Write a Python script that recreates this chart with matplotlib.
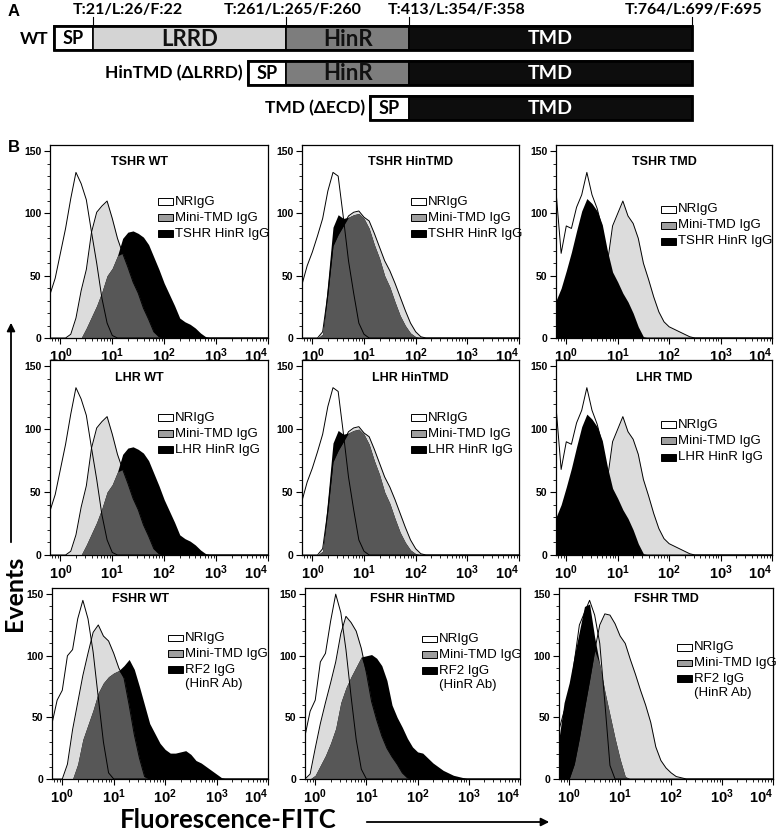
import numpy as np
import matplotlib
matplotlib.use('Agg')
from matplotlib import pyplot as plt
from matplotlib.patches import Rectangle, FancyArrowPatch
from matplotlib.ticker import LogLocator, NullFormatter

plt.rcParams['font.family'] = ['Liberation Sans', 'DejaVu Sans']
plt.rcParams['mathtext.fontset'] = 'custom'
plt.rcParams['mathtext.rm'] = 'Liberation Sans:bold'
plt.rcParams['mathtext.bf'] = 'Liberation Sans:bold'
CAL = ['Lato', 'DejaVu Sans']

W, H = 778, 831

# ---------------- panel A data (TSHR numbering for boxes)
domain_names = ['SP', 'LRRD', 'HinR', 'TMD']
domain_ends = [21, 261, 413, 764]
boundary_labels = ['T:21/L:26/F:22', 'T:261/L:265/F:260',
                   'T:413/L:354/F:358', 'T:764/L:699/F:695']
constructs = ['WT', 'HinTMD (ΔLRRD)', 'TMD (ΔECD)']
construct_first = [1, 2, 3]          # index of first domain after SP
sp_len = 48                          # drawn width of SP box (schematic)

# ---------------- panel B data: events per 0.1-decade bin, listed from a start log10
tshr_wt_nr_from, tshr_wt_nr = -0.2, [35, 48, 68, 88, 112, 133, 124, 111, 85, 60, 32, 12, 2, 0]
tshr_wt_mini_from, tshr_wt_mini = 0.2, [3, 16, 38, 55, 85, 101, 106, 110, 96, 80, 68, 57, 45, 36,
                                        24, 15, 5, 1, 0]
tshr_wt_hinr_from, tshr_wt_hinr = 0.4, [0, 8, 17, 26, 37, 50, 56, 66, 80, 85, 86, 84, 81, 75, 65,
                                        55, 44, 35, 26, 16, 13, 11, 8, 4, 1, 0]

tshr_hin_nr_from, tshr_hin_nr = -0.2, [43, 58, 69, 82, 96, 118, 133, 130, 97, 62, 36, 12, 3, 0]
tshr_hin_mini_from, tshr_hin_mini = 0.1, [0, 5, 35, 74, 83, 90, 98, 101, 102, 97, 94, 84, 73, 62,
                                          54, 44, 33, 22, 12, 5, 1, 0]
tshr_hin_hinr_from, tshr_hin_hinr = 0.1, [0, 3, 45, 89, 99, 96, 97, 99, 100, 96, 88, 75, 64, 50,
                                          41, 29, 18, 10, 4, 1, 0]

tshr_tmd_nr_from, tshr_tmd_nr = -0.2, [118, 68, 90, 88, 105, 115, 133, 115, 104, 88, 62, 42, 25,
                                       12, 4, 0]
tshr_tmd_mini_from, tshr_tmd_mini = 0.7, [0, 60, 90, 100, 110, 98, 92, 80, 60, 47, 33, 21, 13, 9,
                                          7, 5, 3, 1, 0]
tshr_tmd_hinr_from, tshr_tmd_hinr = -0.2, [30, 40, 54, 69, 86, 102, 112, 108, 102, 91, 70, 53, 45,
                                           36, 29, 20, 9, 1, 0]

# LHR row shows the same histograms as the TSHR row
lhr_wt_nr_from, lhr_wt_nr = tshr_wt_nr_from, tshr_wt_nr
lhr_wt_mini_from, lhr_wt_mini = tshr_wt_mini_from, tshr_wt_mini
lhr_wt_hinr_from, lhr_wt_hinr = tshr_wt_hinr_from, tshr_wt_hinr
lhr_hin_nr_from, lhr_hin_nr = tshr_hin_nr_from, tshr_hin_nr
lhr_hin_mini_from, lhr_hin_mini = tshr_hin_mini_from, tshr_hin_mini
lhr_hin_hinr_from, lhr_hin_hinr = tshr_hin_hinr_from, tshr_hin_hinr
lhr_tmd_nr_from, lhr_tmd_nr = tshr_tmd_nr_from, tshr_tmd_nr
lhr_tmd_mini_from, lhr_tmd_mini = tshr_tmd_mini_from, tshr_tmd_mini
lhr_tmd_hinr_from, lhr_tmd_hinr = tshr_tmd_hinr_from, tshr_tmd_hinr

fshr_wt_nr_from, fshr_wt_nr = -0.2, [45, 64, 72, 100, 105, 130, 145, 130, 103, 66, 30, 5, 0]
fshr_wt_mini_from, fshr_wt_mini = 0.0, [0, 12, 40, 62, 84, 102, 119, 125, 116, 112, 102, 90, 82,
                                        60, 36, 17, 2, 0]
fshr_wt_rf2_from, fshr_wt_rf2 = 0.2, [0, 12, 32, 44, 56, 70, 78, 83, 86, 88, 92, 97, 89, 75, 60,
                                      45, 37, 29, 24, 21, 21, 22, 23, 20, 15, 13, 10, 7, 4, 1, 0]

fshr_hin_nr_from, fshr_hin_nr = -0.2, [35, 55, 64, 95, 102, 128, 150, 135, 105, 67, 32, 8, 0]
fshr_hin_mini_from, fshr_hin_mini = -0.2, [0, 4, 25, 45, 62, 78, 95, 118, 132, 127, 120, 106, 86,
                                           63, 48, 35, 25, 18, 12, 5, 1, 0]
fshr_hin_rf2_from, fshr_hin_rf2 = -0.1, [0, 3, 11, 19, 29, 41, 62, 74, 83, 91, 99, 100, 101, 98,
                                         92, 80, 60, 50, 42, 33, 26, 22, 21, 17, 13, 10, 7, 5, 3,
                                         2, 1, 0]

fshr_tmd_nr_from, fshr_tmd_nr = -0.2, [40, 55, 63, 95, 125, 135, 145, 133, 110, 62, 11, 0]
fshr_tmd_mini_from, fshr_tmd_mini = 0.0, [0, 12, 33, 57, 80, 104, 125, 134, 133, 126, 116, 110,
                                          97, 85, 72, 60, 46, 26, 15, 9, 5, 2, 1, 0]
fshr_tmd_rf2_from, fshr_tmd_rf2 = -0.2, [33, 62, 78, 100, 120, 140, 142, 115, 93, 71, 52, 33, 16,
                                         2, 0]

panel_titles = [['TSHR WT', 'TSHR HinTMD', 'TSHR TMD'],
                ['LHR WT', 'LHR HinTMD', 'LHR TMD'],
                ['FSHR WT', 'FSHR HinTMD', 'FSHR TMD']]
ab_labels = ['TSHR HinR IgG', 'LHR HinR IgG', 'RF2 IgG\n(HinR Ab)']
key_labels = ['NRIgG', 'Mini-TMD IgG']
xtick_vals = [1, 10, 100, 1000, 10000]
xtick_labels = [r'$\mathbf{10^{0}}$', r'$\mathbf{10^{1}}$', r'$\mathbf{10^{2}}$',
                r'$\mathbf{10^{3}}$', r'$\mathbf{10^{4}}$']
ytick_vals = [0, 50, 100, 150]

LIGHT, DARK, BLACK = '#dcdcdc', '#575757', '#000000'
KEY_GRAY = '#9e9e9e'

log_bins = np.round(np.arange(-0.2, 4.05, 0.1), 1)
xs = 10 ** log_bins


def trace(start, vals):
    y = np.zeros(len(log_bins))
    i = int(round((start + 0.2) / 0.1))
    y[i:i + len(vals)] = vals
    return y


fig = plt.figure(figsize=(W / 100, H / 100), dpi=100)


def px_axes(l, t, r, b):
    return fig.add_axes([l / W, 1 - b / H, (r - l) / W, (b - t) / H])


# ---------------- panel A
axA = px_axes(0, 0, W, 130)
scale, offset = 0.8073, 75.55  # px per residue, px of residue 0
axA.set_xlim(-offset / scale, (W - offset) / scale)
axA.set_ylim(130, 0)
axA.axis('off')
dom_fc = ['white', '#d4d4d4', '#7d7d7d', '#0d0d0d']
dom_tc = ['black', '#111111', '#111111', 'white']
dom_fs = [13, 16, 16, 14]
row_y = [38, 72.5, 107.5]
bar_h = 24
for r, (name, first) in enumerate(zip(constructs, construct_first)):
    yc = row_y[r]
    start_sp = domain_ends[first - 1] - sp_len
    segs = [(start_sp, domain_ends[first - 1], 0)]
    for d in range(first, len(domain_names)):
        segs.append((domain_ends[d - 1], domain_ends[d], d))
    for x0, x1, d in segs:
        axA.add_patch(Rectangle((x0, yc - bar_h / 2), x1 - x0, bar_h, fc=dom_fc[d],
                                ec='black', lw=1.2))
        axA.text((x0 + x1) / 2, yc + 1, domain_names[d], ha='center', va='center',
                 fontsize=dom_fs[d], fontweight='bold', color=dom_tc[d], family=CAL)
    axA.add_patch(Rectangle((start_sp, yc - bar_h / 2), domain_ends[-1] - start_sp, bar_h,
                            fc='none', ec='black', lw=2))
    axA.text(start_sp - 6, yc + 1, name, ha='right', va='center', fontsize=12.5,
             fontweight='bold', family=CAL)
label_shift = [44, 8, 59, 1]
for pos, lab, sh in zip(domain_ends, boundary_labels, label_shift):
    axA.plot([pos, pos], [row_y[0] - bar_h / 2, 17], color='black', lw=0.8)
    axA.text(pos + sh, 10, lab, ha='center', va='center', fontsize=11.5,
             fontweight='bold', family=CAL)
fig.text(8 / W, 1 - 12 / H, 'A', fontsize=12, fontweight='bold', va='center')
fig.text(8 / W, 1 - 148 / H, 'B', fontsize=12, fontweight='bold', va='center')

# ---------------- panel B
data = {
    (0, 0): (trace(tshr_wt_nr_from, tshr_wt_nr), trace(tshr_wt_mini_from, tshr_wt_mini),
             trace(tshr_wt_hinr_from, tshr_wt_hinr)),
    (0, 1): (trace(tshr_hin_nr_from, tshr_hin_nr), trace(tshr_hin_mini_from, tshr_hin_mini),
             trace(tshr_hin_hinr_from, tshr_hin_hinr)),
    (0, 2): (trace(tshr_tmd_nr_from, tshr_tmd_nr), trace(tshr_tmd_mini_from, tshr_tmd_mini),
             trace(tshr_tmd_hinr_from, tshr_tmd_hinr)),
    (1, 0): (trace(lhr_wt_nr_from, lhr_wt_nr), trace(lhr_wt_mini_from, lhr_wt_mini),
             trace(lhr_wt_hinr_from, lhr_wt_hinr)),
    (1, 1): (trace(lhr_hin_nr_from, lhr_hin_nr), trace(lhr_hin_mini_from, lhr_hin_mini),
             trace(lhr_hin_hinr_from, lhr_hin_hinr)),
    (1, 2): (trace(lhr_tmd_nr_from, lhr_tmd_nr), trace(lhr_tmd_mini_from, lhr_tmd_mini),
             trace(lhr_tmd_hinr_from, lhr_tmd_hinr)),
    (2, 0): (trace(fshr_wt_nr_from, fshr_wt_nr), trace(fshr_wt_mini_from, fshr_wt_mini),
             trace(fshr_wt_rf2_from, fshr_wt_rf2)),
    (2, 1): (trace(fshr_hin_nr_from, fshr_hin_nr), trace(fshr_hin_mini_from, fshr_hin_mini),
             trace(fshr_hin_rf2_from, fshr_hin_rf2)),
    (2, 2): (trace(fshr_tmd_nr_from, fshr_tmd_nr), trace(fshr_tmd_mini_from, fshr_tmd_mini),
             trace(fshr_tmd_rf2_from, fshr_tmd_rf2)),
}

col_edges = [[(50, 268), (302, 519), (556, 772)],
             [(50, 268), (302, 519), (556, 772)],
             [(52, 268), (305, 520), (559, 773)]]
row_edges = [(145, 338), (360, 555), (588, 779)]
title_x = [0.41, 0.5, 0.5]
title_y = [0.91, 0.91, 0.945]
key_pos = {(0, 0): (0.495, 0.705), (0, 1): (0.50, 0.705), (0, 2): (0.486, 0.668),
           (1, 0): (0.495, 0.705), (1, 1): (0.50, 0.705), (1, 2): (0.486, 0.668),
           (2, 0): (0.537, 0.738), (2, 1): (0.544, 0.733), (2, 2): (0.55, 0.69)}

for r in range(3):
    for c in range(3):
        l, rr = col_edges[r][c]
        t, b = row_edges[r]
        ax = px_axes(l, t, rr, b)
        nr, mini, ab = data[(r, c)]
        shade = not (c == 2 and r < 2)
        ax.fill_between(xs, 0, mini, color=LIGHT, lw=0)
        if shade:
            ax.fill_between(xs, 0, ab, color=BLACK, lw=0)
            ax.fill_between(xs, 0, np.minimum(mini, ab), color=DARK, lw=0)
            ax.plot(xs, mini, color='black', lw=0.7)
        else:
            ax.plot(xs, mini, color='black', lw=0.7)
            ax.fill_between(xs, 0, ab, color=BLACK, lw=0)
        ax.plot(xs, nr, color='black', lw=0.7)

        ax.set_xscale('log')
        ax.set_xlim(10 ** -0.2, 1e4)
        ax.set_ylim(0, 155)
        ax.set_xticks(xtick_vals)
        ax.set_xticklabels(xtick_labels, fontsize=10.5)
        ax.get_xticklabels()[-1].set_horizontalalignment('right')
        ax.xaxis.set_minor_locator(LogLocator(base=10, subs=np.arange(2, 10)))
        ax.xaxis.set_minor_formatter(NullFormatter())
        ax.set_yticks(ytick_vals)
        ax.set_yticklabels([str(v) for v in ytick_vals], fontsize=7.5, fontweight='bold')
        ax.set_yticks(np.arange(0, 151, 10), minor=True)
        ax.tick_params(which='major', direction='out', length=4, width=0.8, pad=2)
        ax.tick_params(which='minor', direction='out', length=2, width=0.6)
        for s in ax.spines.values():
            s.set_linewidth(0.9)

        ax.text(title_x[c], title_y[r], panel_titles[r][c], transform=ax.transAxes,
                ha='center', va='center', fontsize=9, fontweight='bold')

        kx, ky = key_pos[(r, c)]
        dy = 16 / 193
        ab_lines = ab_labels[r].split('\n')
        entries = [(key_labels[0], 'white'), (key_labels[1], KEY_GRAY), (ab_lines[0], BLACK)]
        for i, (lab, fc) in enumerate(entries):
            yy = ky - i * dy
            ax.add_patch(Rectangle((kx, yy - 0.018), 0.07, 0.036, transform=ax.transAxes,
                                   fc=fc, ec='black', lw=0.7))
            ax.text(kx + 0.08, yy, lab, transform=ax.transAxes, ha='left', va='center',
                    fontsize=9.5)
        if len(ab_lines) > 1:
            ax.text(kx + 0.08, ky - 2.9 * dy, ab_lines[1], transform=ax.transAxes,
                    ha='left', va='center', fontsize=9.5)

# axis titles with arrows
fig.text(14 / W, 1 - 593 / H, 'Events', rotation=90, ha='center', va='center',
         fontsize=18, fontweight='bold', family=CAL)
fig.text(120 / W, 1 - 820 / H, 'Fluorescence-FITC', ha='left', va='center',
         fontsize=18.5, fontweight='bold', family=CAL)
fig.add_artist(FancyArrowPatch(
    (11 / W, 1 - 545 / H), (11 / W, 1 - 320 / H), transform=fig.transFigure,
    arrowstyle='-|>', mutation_scale=12, lw=1.3, color='black'))
fig.add_artist(FancyArrowPatch(
    (364 / W, 1 - 822 / H), (552 / W, 1 - 822 / H), transform=fig.transFigure,
    arrowstyle='-|>', mutation_scale=12, lw=1.3, color='black'))

fig.savefig('out.png', dpi=100)
